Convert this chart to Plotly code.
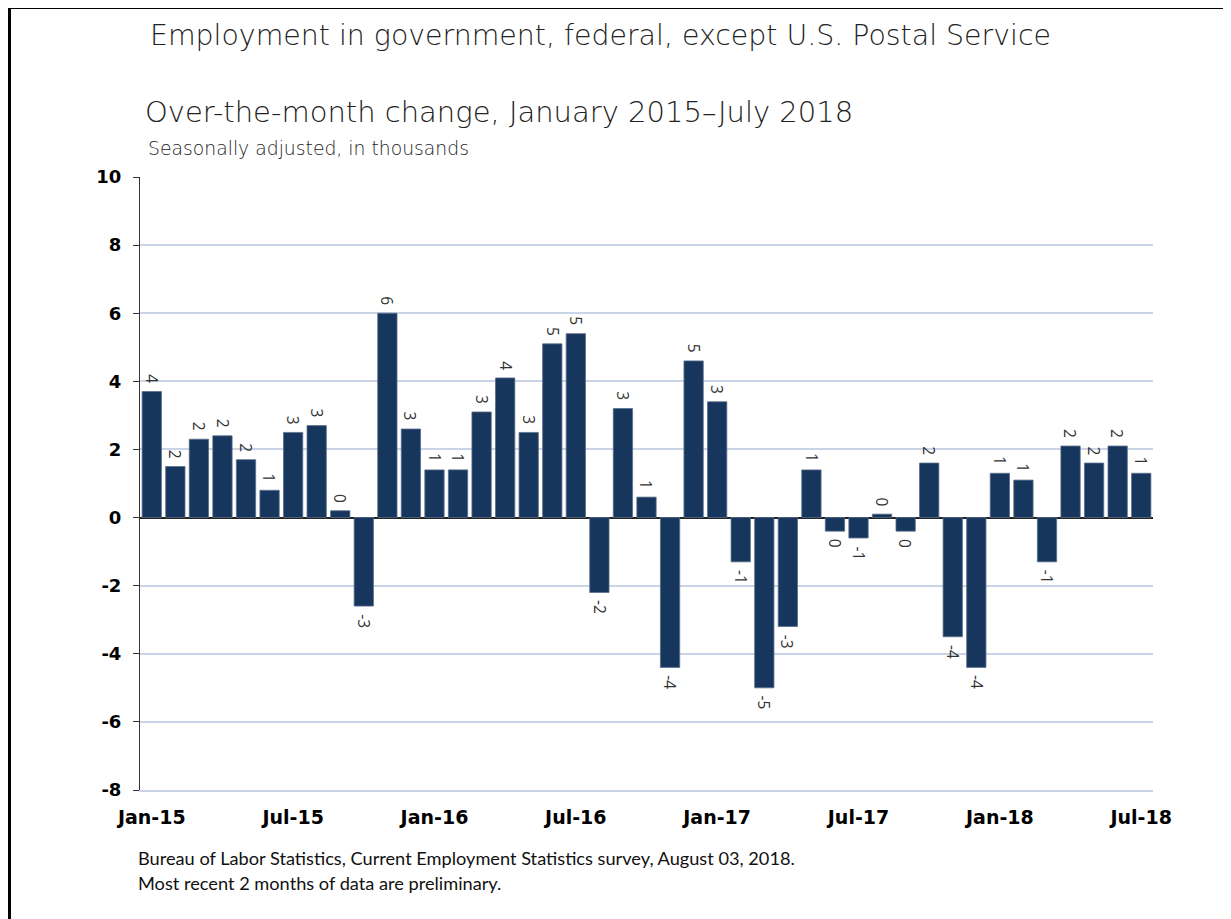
import plotly.graph_objects as go

months = [f"{m}-{y}" for y in ["15", "16", "17", "18"]
          for m in ["Jan", "Feb", "Mar", "Apr", "May", "Jun",
                    "Jul", "Aug", "Sep", "Oct", "Nov", "Dec"]][:43]

values = [3.7, 1.5, 2.3, 2.4, 1.7, 0.8, 2.5, 2.7, 0.2, -2.6, 6.0, 2.6,
          1.4, 1.4, 3.1, 4.1, 2.5, 5.1, 5.4, -2.2, 3.2, 0.6, -4.4, 4.6,
          3.4, -1.3, -5.0, -3.2, 1.4, -0.4, -0.6, 0.1, -0.4, 1.6, -3.5, -4.4,
          1.3, 1.1, -1.3, 2.1, 1.6, 2.1, 1.3]

labels = ["4", "2", "2", "2", "2", "1", "3", "3", "0", "-3", "6", "3",
          "1", "1", "3", "4", "3", "5", "5", "-2", "3", "1", "-4", "5",
          "3", "-1", "-5", "-3", "1", "0", "-1", "0", "0", "2", "-4", "-4",
          "1", "1", "-1", "2", "2", "2", "1"]

tick_labels = ["Jan-15", "Jul-15", "Jan-16", "Jul-16", "Jan-17", "Jul-17", "Jan-18", "Jul-18"]
y_ticks = [-8, -6, -4, -2, 0, 2, 4, 6, 8, 10]
y_tick_text = ["-8", "-6", "-4", "-2", "0", "2", "4", "6", "8", "10"]

title1 = "Employment in government, federal, except U.S. Postal Service"
title2 = "Over-the-month change, January 2015\u2013July 2018"
title3 = "Seasonally adjusted, in thousands"
foot1 = "Bureau of Labor Statistics, Current Employment Statistics survey, August 03, 2018."
foot2 = "Most recent 2 months of data are preliminary."

OFF = 8  # page body offset
W, H = 1223, 911
L, R, T, B = 140 - OFF, 1153 - OFF, 177 - OFF, 790 - OFF
pw, ph = R - L, B - T


def px(x):
    x = x - OFF
    return (x - L) / pw


def py(y):
    y = y - OFF
    return (B - y) / ph


fig = go.Figure(go.Bar(
    x=months, y=values,
    marker=dict(color="#17365d", line=dict(color="#5a6f8c", width=0.8)),
    hoverinfo="x+y",
))

for m, v, t in zip(months, values, labels):
    fig.add_annotation(
        x=m, y=v, text=t, showarrow=False, textangle=90,
        xanchor="center", yanchor="bottom" if v >= 0 else "top",
        yshift=6 if v >= 0 else -6,
        font=dict(family="Open Sans", size=15.5, color="#333333"),
    )

fig.update_layout(
    width=W, height=H,
    margin=dict(l=L, r=W - R, t=T, b=H - B),
    paper_bgcolor="white", plot_bgcolor="white",
    bargap=0.18, showlegend=False,
    xaxis=dict(
        type="category", range=[-0.5, 42.5],
        tickmode="array", tickvals=tick_labels, ticktext=tick_labels,
        tickfont=dict(family="DejaVu Sans", size=19, color="black", weight="bold"),
        showgrid=False, showline=True, linecolor="#c9d5e6", linewidth=1.5,
        ticks="", ticklabelstandoff=9,
    ),
    yaxis=dict(
        range=[-8, 10], tickmode="array", tickvals=y_ticks, ticktext=y_tick_text,
        tickfont=dict(family="DejaVu Sans", size=18, color="black", weight="bold"),
        showgrid=True, gridcolor="#c9d5e6", gridwidth=1.5,
        zeroline=True, zerolinecolor="#222222", zerolinewidth=1.5,
        showline=True, linecolor="#333333", linewidth=1,
        ticks="outside", ticklen=6, tickcolor="#333333",
        ticklabelstandoff=8,
    ),
)

annos = [
    dict(text=title1, x=px(148), y=py(36), size=28.4, family="DejaVu Sans", color="#222222", weight=200),
    dict(text=title2, x=px(143), y=py(112), size=29, family="DejaVu Sans", color="#222222", weight=200),
    dict(text=title3, x=px(146), y=py(149), size=18.8, family="DejaVu Sans", color="#222222", weight=200),
    dict(text=foot1, x=px(136), y=py(858), size=18.2, family="Lato", color="#111111", weight=400),
    dict(text=foot2, x=px(136), y=py(883), size=18.2, family="Lato", color="#111111", weight=400),
]
for a in annos:
    fig.add_annotation(
        text=a["text"], x=a["x"], y=a["y"], xref="paper", yref="paper",
        xanchor="left", yanchor="middle", showarrow=False,
        font=dict(family=a["family"], size=a["size"], color=a["color"], weight=a["weight"]),
    )

# outer frame (left and top edges visible)
fig.add_shape(type="line", xref="paper", yref="paper",
              x0=px(9.5), x1=px(9.5), y0=py(7.5), y1=py(940),
              line=dict(color="black", width=3))
fig.add_shape(type="line", xref="paper", yref="paper",
              x0=px(8), x1=px(1260), y0=py(7.5), y1=py(7.5),
              line=dict(color="black", width=3))

fig.write_html("out.html")
